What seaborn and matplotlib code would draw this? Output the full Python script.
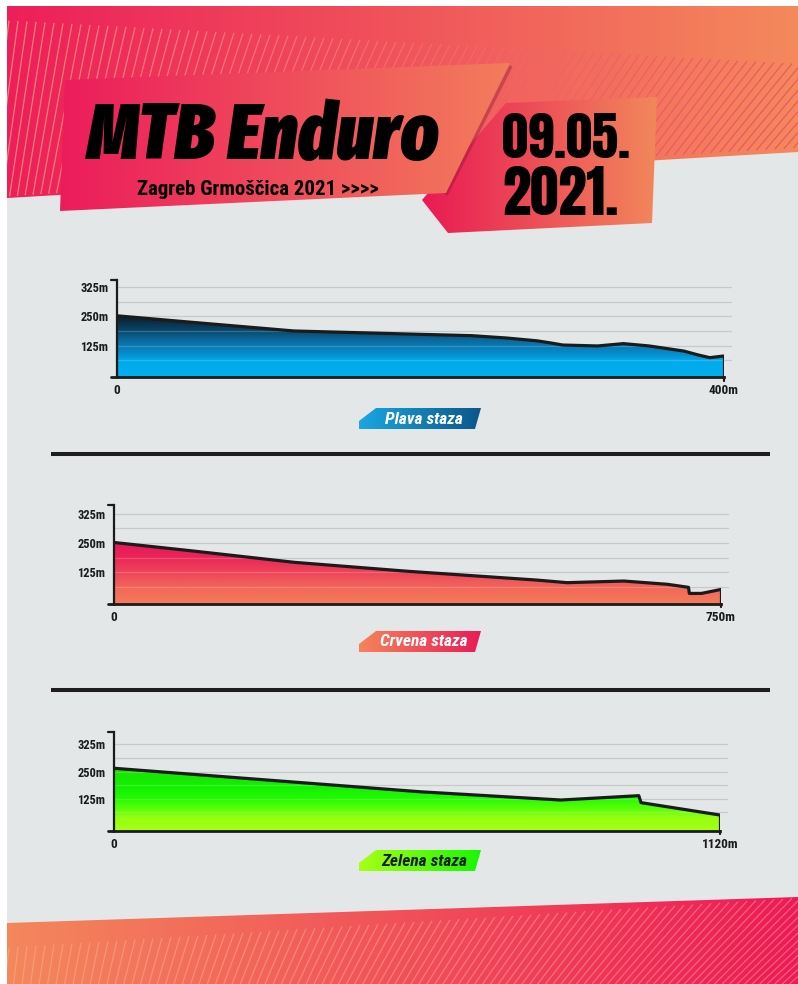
import numpy as np
import matplotlib
matplotlib.use("Agg")
import matplotlib.pyplot as plt
import matplotlib.transforms as mtransforms
import seaborn as sns
from matplotlib.colors import LinearSegmentedColormap, to_rgb
from matplotlib.patches import Polygon
from matplotlib.collections import LineCollection

# elevation profiles (distance in m, altitude in m)
plava_x = [0, 48, 117, 175, 234, 257, 277, 286, 294, 317, 334, 351, 374, 383, 391, 400]
plava_y = [253, 226, 188, 178, 168, 158, 146, 137, 128, 124, 134, 124, 102, 86, 74, 81]

crvena_x = [0, 94, 223, 362, 523, 560, 630, 684, 710, 711, 726, 750]
crvena_y = [252, 217, 167, 129, 91, 80, 87, 73, 60, 34, 34, 51]

zelena_x = [0, 566, 826, 970, 974, 1120]
zelena_y = [265, 157, 119, 139, 107, 50]

track_names = ["Plava staza", "Crvena staza", "Zelena staza"]
track_lengths = [400, 750, 1120]

ytick_vals = [125, 250, 375]
ytick_labels = ["125m", "250m", "325m"]
grid_vals = [62.5, 125, 187.5, 250, 312.5, 375]

title = "MTB Enduro"
subtitle = "Zagreb Grmoščica 2021 >>>>"
date_lines = ["09.05.", "2021."]

W, H = 798, 984
FONT = ["Roboto Condensed", "Barlow Condensed", "DejaVu Sans"]
TITLE_FONT = ["Fira Sans Extra Condensed", "Barlow Condensed", "DejaVu Sans"]
DATE_FONT = ["Anton", "Barlow Condensed", "DejaVu Sans"]
INK = "#1b1b1b"

sns.set_theme(style="white")
plt.rcParams["font.family"] = FONT


def cmap_of(stops):
    return LinearSegmentedColormap.from_list("c", stops)


def grad_poly(ax, verts, c0, c1, z):
    poly = Polygon(verts, closed=True, facecolor="none", edgecolor="none", zorder=z)
    ax.add_patch(poly)
    xs = [v[0] for v in verts]
    ys = [v[1] for v in verts]
    im = ax.imshow(np.linspace(0, 1, 256)[None, :], cmap=cmap_of([c0, c1]),
                   extent=(min(xs), max(xs), max(ys), min(ys)), aspect="auto",
                   zorder=z, interpolation="bilinear")
    im.set_clip_path(poly)
    return poly


def mix(c, other, t):
    a, b = np.array(to_rgb(c)), np.array(to_rgb(other))
    return tuple(a * (1 - t) + b * t)


def stripes(ax, poly, x_range, top_fn, bot_fn, slant_fn, c0, c1, alpha, z):
    segs, cols = [], []
    for x in np.arange(x_range[0], x_range[1], 9):
        yt, yb = top_fn(x), bot_fn(x)
        if yb <= yt:
            continue
        k = slant_fn(x)
        segs.append([(x, yt), (x - k * (yb - yt), yb)])
        t = np.clip(x / W, 0, 1)
        cols.append(mix(mix(c0, c1, t), "white", 0.12))
    lc = LineCollection(segs, colors=cols, linewidths=0.9, alpha=alpha, zorder=z)
    ax.add_collection(lc)
    lc.set_clip_path(poly)


fig = plt.figure(figsize=(W / 100, H / 100), dpi=100, facecolor="white")
bg = fig.add_axes([0, 0, 1, 1])
bg.set_axis_off()

# poster background
bg.add_patch(Polygon([(7, 6), (W, 6), (W, H), (7, H)], closed=True,
                     facecolor="#e4e7e8", edgecolor="none", zorder=0))

# top band with stripes
top_band = grad_poly(bg, [(7, 6), (W, 6), (W, 152), (7, 198)], "#ed1f5a", "#f4895c", 1)
stripes(bg, top_band, (0, 880),
        lambda x: 20 + 0.055 * x,
        lambda x: 198 - (x - 7) * 46 / 791,
        lambda x: 0.12 + 0.7 * x / W,
        "#f7906a", "#ec2f5c", 0.8, 2)

# bottom band with stripes
bot_band = grad_poly(bg, [(7, 923), (W, 897), (W, H), (7, H)], "#f4875c", "#ee1a57", 1)
stripes(bg, bot_band, (0, 900),
        lambda x: 948 - 50 * x / W,
        lambda x: H,
        lambda x: 0.1 + 0.9 * x / W,
        "#f59a70", "#f36a70", 0.75, 2)

# date box and title box
grad_poly(bg, [(506, 103), (657, 97), (652, 223), (448, 233), (422, 200)], "#e91a54", "#f2875b", 3)
bg.plot([511, 446], [66, 195], color="#7a1030", lw=2.5, alpha=0.35, zorder=3.5,
        solid_capstyle="butt")
grad_poly(bg, [(65, 80), (510, 63), (446, 193), (60, 211)], "#ec1c5c", "#f37d5b", 4)

bg.text(263, 159, title, fontsize=57, fontweight=900, fontstyle="italic", family=TITLE_FONT,
        ha="center", va="baseline", color="black", zorder=6)
bg.text(258, 195, subtitle, fontsize=15, fontweight="bold",
        ha="center", va="baseline", color="black", zorder=6)
bg.text(502, 158, date_lines[0], fontsize=38, family=DATE_FONT,
        ha="left", va="baseline", color="black", zorder=6)
bg.text(502, 215, date_lines[1], fontsize=41, family=DATE_FONT,
        ha="left", va="baseline", color="black", zorder=6)

# separators
for yy in [454, 690]:
    bg.plot([51, 770], [yy, yy], color="#1e1e1e", lw=2.9, solid_capstyle="butt", zorder=2)

# chart panels: pixel box (x0, y0, x1, y1), y limits, fill colours, badge
panels = [
    dict(box=(116.8, 280, 723.5, 377.3), ylim=(-10, 406),
         fill=[(0.0, "#00aeef"), (0.16, "#00abeb"), (0.25, "#0789c8"), (0.36, "#0a6ea3"),
               (0.5, "#0b3f60"), (0.6, "#0b2233"), (1.0, "#070f16")],
         badge=("#1aa7e2", "#0b578a"), text="white", dy=0),
    dict(box=(113.8, 505.3, 720.9, 603.7), ylim=(-10, 411),
         fill=[(0.0, "#f57b5a"), (0.16, "#f3685a"), (0.32, "#ee445a"), (0.48, "#ea2458"),
               (0.62, "#e8175a"), (1.0, "#e5115a")],
         badge=("#f5845b", "#e91c56"), text="white", dy=223),
    dict(box=(113.8, 731.7, 720.0, 830.7), ylim=(-22, 433),
         fill=[(0.0, "#a6ff14"), (0.13, "#96ff12"), (0.22, "#5cff08"), (0.33, "#22fa02"),
               (0.45, "#12f000"), (0.65, "#1ae000"), (1.0, "#20d800")],
         badge=("#a8ff16", "#16f800"), text=INK, dy=442),
]
profiles = [(plava_x, plava_y), (crvena_x, crvena_y), (zelena_x, zelena_y)]
badge_shape = [(359, 429), (359, 421), (376, 408), (481, 408), (475, 429)]

for (px, py), name, length, p in zip(profiles, track_names, track_lengths, panels):
    x0, y0, x1, y1 = p["box"]
    ax = fig.add_axes([x0 / W, 1 - y1 / H, (x1 - x0) / W, (y1 - y0) / H])
    ax.set_facecolor("none")
    ylo, yhi = p["ylim"]

    blend = mtransforms.blended_transform_factory(ax.transAxes, ax.transData)
    for g in grid_vals:
        ax.plot([0, 1.012], [g, g], transform=blend, color="#c7c9ca", lw=0.9,
                zorder=0, clip_on=False)

    # gradient fill under the profile
    verts = [(px[0], ylo)] + list(zip(px, py)) + [(px[-1], ylo)]
    area = Polygon(verts, closed=True, facecolor="none", edgecolor="none")
    ax.add_patch(area)
    grad = np.linspace(0, 1, 256)[:, None]
    im = ax.imshow(grad, cmap=cmap_of(p["fill"]), origin="lower",
                   extent=(0, length, ylo, yhi), aspect="auto", zorder=1,
                   interpolation="bilinear")
    im.set_clip_path(area)
    for g in grid_vals:
        ln, = ax.plot([0, length], [g, g], color="white", lw=0.9, alpha=0.18, zorder=2)
        ln.set_clip_path(area)

    sns.lineplot(x=px, y=py, ax=ax, color=INK, lw=2.3, estimator=None, sort=False,
                 zorder=4)
    ax.plot([px[-1], px[-1]], [ylo, py[-1]], color=INK, lw=2.3, zorder=4)

    ax.set_xlim(0, length)
    ax.set_ylim(ylo, yhi)
    sns.despine(ax=ax)
    ax.spines["left"].set_color(INK)
    ax.spines["left"].set_linewidth(1.6)
    ax.spines["bottom"].set_color(INK)
    ax.spines["bottom"].set_linewidth(2.0)
    ax.spines["left"].set_zorder(5)
    ax.spines["bottom"].set_zorder(5)
    ax.plot([-0.009, 0], [1, 1], transform=ax.transAxes, color=INK, lw=1.6, clip_on=False)
    ax.plot([-0.009, 0], [0, 0], transform=ax.transAxes, color=INK, lw=2.0, clip_on=False)
    ax.plot([1, 1], [0, -0.035], transform=ax.transAxes, color=INK, lw=1.6, clip_on=False)

    ax.set_yticks(ytick_vals, ytick_labels)
    ax.set_xticks([0, length], ["0", f"{length}m"])
    ax.tick_params(axis="y", length=0, pad=6, labelsize=9, labelcolor=INK)
    ax.tick_params(axis="x", length=0, pad=5, labelsize=9.5, labelcolor=INK)
    for t in ax.get_xticklabels() + ax.get_yticklabels():
        t.set_fontweight("bold")
    ax.grid(False)

    # track name badge
    shape = [(bx, by + p["dy"]) for bx, by in badge_shape]
    grad_poly(bg, shape, p["badge"][0], p["badge"][1], 3)
    bg.text(424, 419 + p["dy"], name, fontsize=12.5, fontweight="bold",
            fontstyle="italic", ha="center", va="center", color=p["text"], zorder=6)

bg.set_xlim(0, W)
bg.set_ylim(H, 0)

fig.savefig("out.png", dpi=100, facecolor="white")
